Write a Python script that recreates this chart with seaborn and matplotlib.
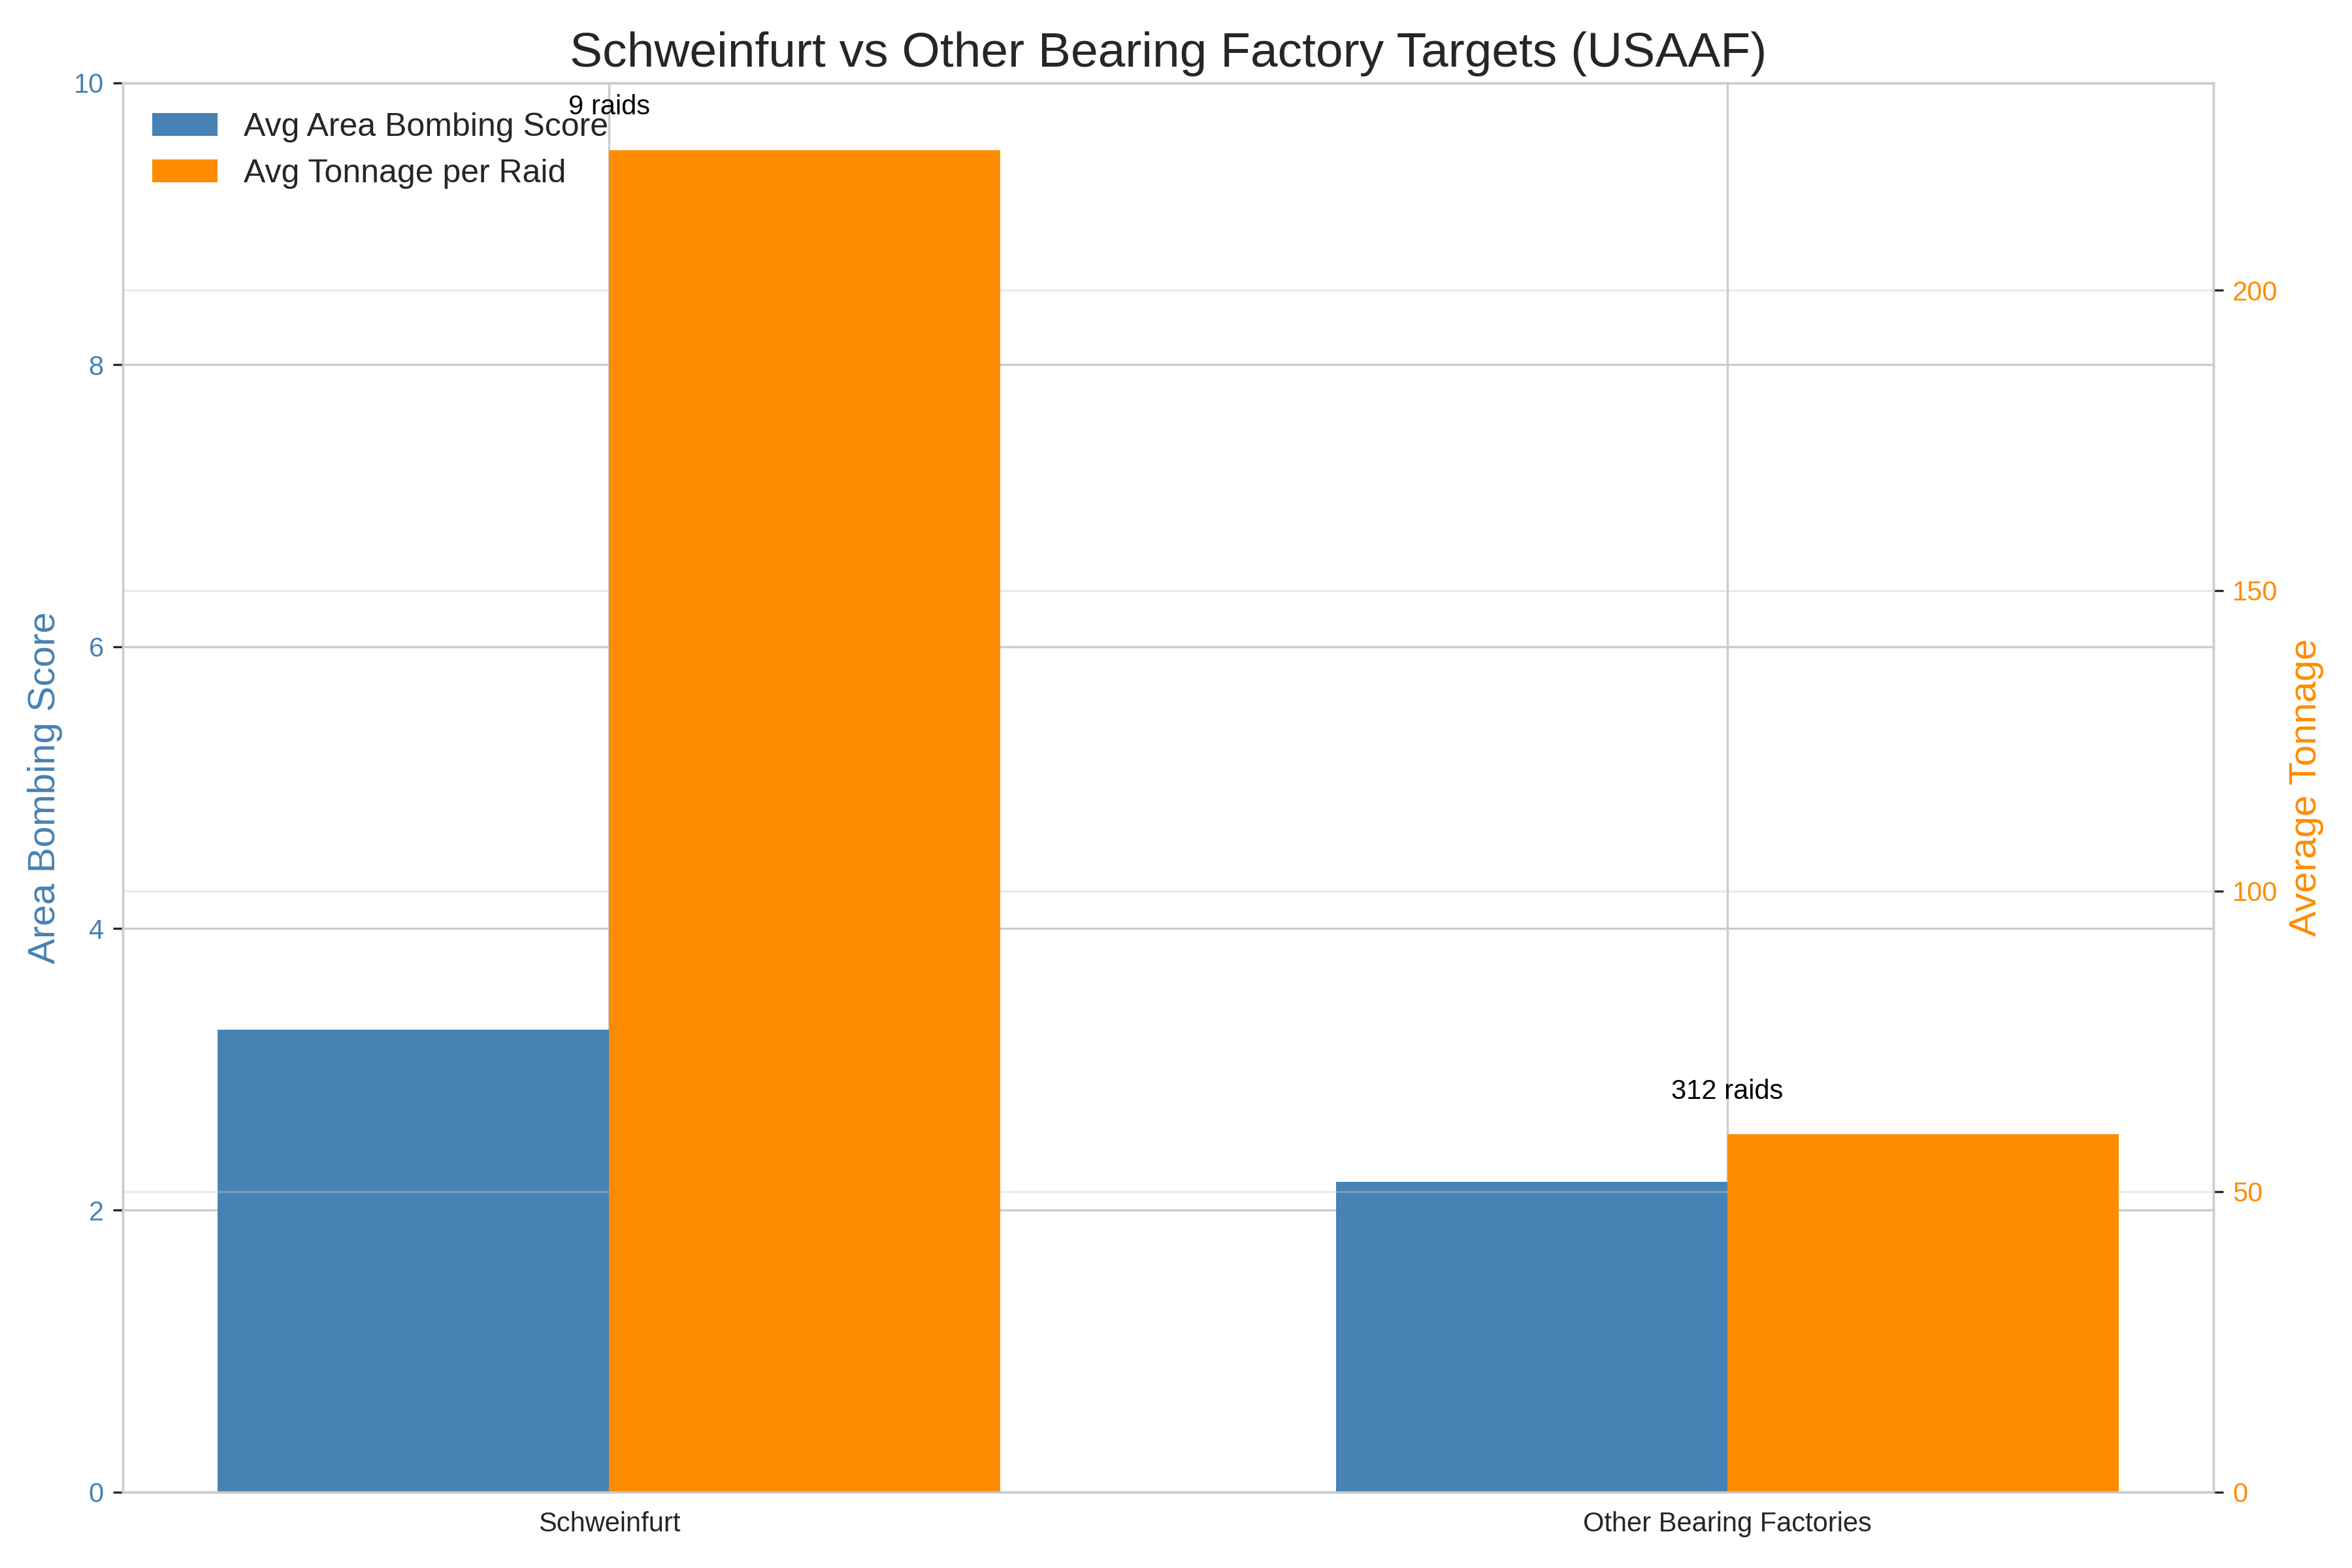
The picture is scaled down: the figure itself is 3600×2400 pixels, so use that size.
import matplotlib
matplotlib.use("Agg")
import matplotlib.pyplot as plt
import seaborn as sns
import numpy as np

targets = ["Schweinfurt", "Other Bearing Factories"]
avg_score = [3.28, 2.20]
avg_tonnage = [223.3, 59.5]
raid_counts = [9, 312]

sns.set_style("whitegrid")
plt.rcParams['font.family'] = ['Liberation Sans', 'DejaVu Sans']

fig, ax1 = plt.subplots(figsize=(12, 8))
ax2 = ax1.twinx()

x = np.arange(len(targets))
w = 0.35

sns.barplot(x=x - w / 2, y=avg_score, native_scale=True, width=w,
            color='steelblue', saturation=1, linewidth=0, errorbar=None,
            label='Avg Area Bombing Score', ax=ax1)
sns.barplot(x=x + w / 2, y=avg_tonnage, native_scale=True, width=w,
            color='darkorange', saturation=1, linewidth=0, errorbar=None,
            label='Avg Tonnage per Raid', ax=ax2)

ax1.set_xticks(x)
ax1.set_xticklabels(targets)
ax1.set_xlim(-0.435, 1.435)
ax1.set_ylim(0, 10)
ax2.set_ylim(0, max(avg_tonnage) * 1.05)

ax1.set_ylabel('Area Bombing Score', color='steelblue', fontsize=14)
ax2.set_ylabel('Average Tonnage', color='darkorange', fontsize=14)
ax1.tick_params(axis='y', labelcolor='steelblue')
ax2.tick_params(axis='y', labelcolor='darkorange')
ax2.grid(True, alpha=0.4)
ax2.xaxis.grid(False)

for i, (t, n) in enumerate(zip(avg_tonnage, raid_counts)):
    ax2.text(i, t + 5, f'{n} raids', ha='center', va='bottom', fontsize=10, color='black')

ax1.set_title('Schweinfurt vs Other Bearing Factory Targets (USAAF)', fontsize=18)

h1, l1 = ax1.get_legend_handles_labels()
h2, l2 = ax2.get_legend_handles_labels()
if ax1.get_legend() is not None:
    ax1.get_legend().remove()
ax2.legend(h1 + h2, l1 + l2, loc='upper left', fontsize=12, frameon=False)

plt.tight_layout()
fig.savefig('out.png', dpi=300)
